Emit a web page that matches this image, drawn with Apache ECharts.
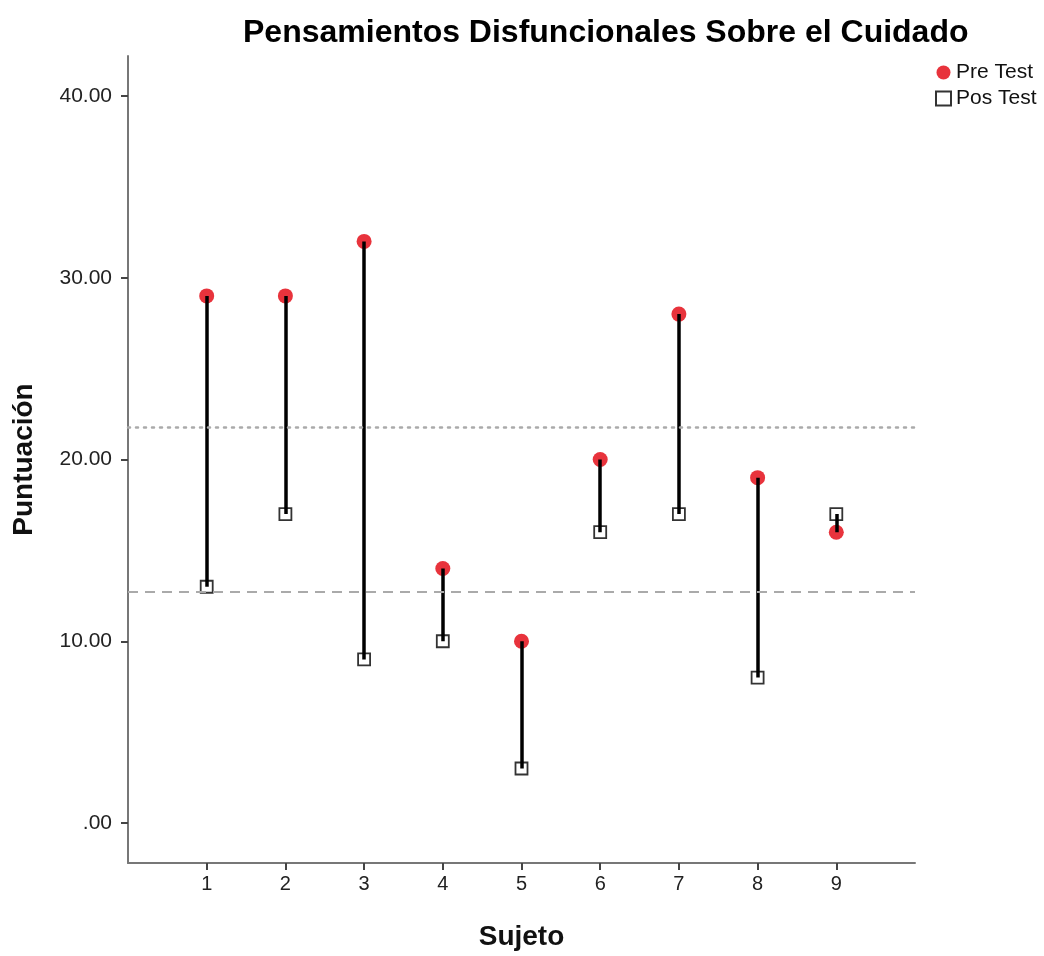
<!DOCTYPE html>
<html>
<head>
<meta charset="utf-8">
<script src="https://cdn.jsdelivr.net/npm/echarts@6/dist/echarts.min.js"></script>
<style>
  html, body { margin: 0; padding: 0; background: #fff; }
  #main { width: 1044px; height: 956px; }
</style>
</head>
<body>
<div id="main"></div>
<script>
var subjects = [1, 2, 3, 4, 5, 6, 7, 8, 9];
var preTest = [29, 29, 32, 14, 10, 20, 28, 19, 16];
var posTest = [13, 17, 9, 10, 3, 16, 17, 8, 17];
var yTicks = [0, 10, 20, 30, 40];
var refPre = 21.8;   // dotted line
var refPos = 12.7;   // dashed line

var myChart = echarts.init(document.getElementById('main'));

var preData = subjects.map(function (s, i) { return [s, preTest[i]]; });
var posData = subjects.map(function (s, i) { return [s, posTest[i]]; });
var segs = subjects.map(function (s, i) {
    return { coords: [[s, preTest[i]], [s, posTest[i]]] };
});

var font = 'Liberation Sans, Arial, sans-serif';

option = {
    backgroundColor: '#fff',
    title: {
        text: 'Pensamientos Disfuncionales Sobre el Cuidado',
        left: 238,
        top: 12,
        textStyle: { fontFamily: font, fontSize: 32, fontWeight: 'bold', color: '#000' }
    },
    legend: {
        orient: 'vertical',
        left: 930,
        top: 57,
        itemWidth: 15,
        itemHeight: 14,
        itemGap: 5,
        textStyle: { fontFamily: font, fontSize: 21, color: '#111' },
        data: ['Pre Test', 'Pos Test']
    },
    grid: { left: 128, right: 129, top: 56, bottom: 88 },
    xAxis: {
        type: 'value',
        min: 0,
        max: 10,
        name: 'Sujeto',
        nameLocation: 'middle',
        nameGap: 60,
        nameTextStyle: { fontFamily: font, fontSize: 28, fontWeight: 'bold', color: '#111' },
        axisLine: { onZero: false, lineStyle: { color: '#777', width: 2 } },
        axisTick: { customValues: subjects, length: 7, lineStyle: { color: '#444', width: 2 } },
        axisLabel: {
            customValues: subjects,
            fontFamily: font, fontSize: 20, color: '#222', margin: 11
        },
        splitLine: { show: false }
    },
    yAxis: {
        type: 'value',
        min: -2.2,
        max: 42.2,
        name: 'Puntuación',
        nameLocation: 'middle',
        nameGap: 90,
        nameTextStyle: { fontFamily: font, fontSize: 28, fontWeight: 'bold', color: '#111' },
        axisLine: { show: true, onZero: false, lineStyle: { color: '#777', width: 2 } },
        axisTick: { show: true, customValues: yTicks, length: 7, lineStyle: { color: '#444', width: 2 } },
        axisLabel: {
            customValues: yTicks,
            fontFamily: font, fontSize: 21, color: '#222', margin: 16,
            formatter: function (v) {
                var s = v.toFixed(2);
                return s === '0.00' ? '.00' : s;
            }
        },
        splitLine: { show: false }
    },
    series: [
        {
            name: 'Pre Test',
            type: 'scatter',
            symbol: 'circle',
            symbolSize: 15,
            z: 2,
            itemStyle: { color: '#e8333c', opacity: 1 },
            data: preData,
            markLine: {
                silent: true,
                symbol: 'none',
                label: { show: false },
                data: [
                    { yAxis: refPre, lineStyle: { type: [2, 6], color: '#aaa', width: 2.5, cap: 'round' } },
                    { yAxis: refPos, lineStyle: { type: [10, 7], color: '#aaa', width: 2 } }
                ]
            }
        },
        {
            name: 'Pos Test',
            type: 'scatter',
            symbol: 'rect',
            symbolSize: 12,
            z: 2,
            itemStyle: { color: '#fff', borderColor: '#333', borderWidth: 1.8, opacity: 1 },
            data: posData
        },
        {
            name: 'link',
            type: 'lines',
            coordinateSystem: 'cartesian2d',
            z: 4,
            silent: true,
            lineStyle: { color: '#000', width: 3.5, opacity: 1 },
            data: segs
        }
    ]
};
myChart.setOption(option);
</script>
</body>
</html>
